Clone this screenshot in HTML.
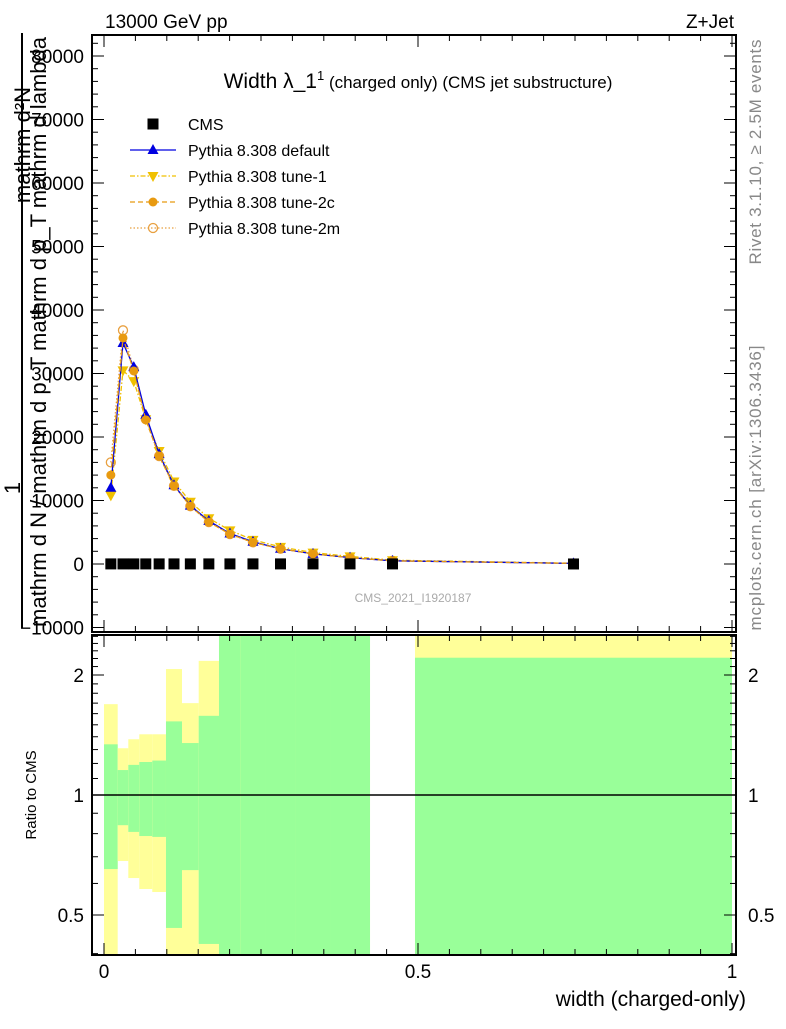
<!DOCTYPE html>
<html><head><meta charset="utf-8"><style>
body{margin:0;background:#fff;}
svg text{font-family:"Liberation Sans",sans-serif;}
</style></head><body>
<svg id="c" width="786" height="1024" xmlns="http://www.w3.org/2000/svg">
<rect width="786" height="1024" fill="#fff"/>
<g id="ratio"></g>
<g id="main"></g>
<g id="axes"></g>
<text x="105" y="28" font-size="19">13000 GeV pp</text>
<text x="734" y="28" font-size="19" text-anchor="end">Z+Jet</text>
<text x="418" y="88" font-size="21" text-anchor="middle">Width λ_1<tspan font-size="13" dy="-8">1</tspan><tspan font-size="17" dy="8"> (charged only) (CMS jet substructure)</tspan></text>
<text x="413" y="602" font-size="12" fill="#aaa" text-anchor="middle">CMS_2021_I1920187</text>
<text transform="translate(761,152) rotate(-90)" font-size="17" fill="#888" text-anchor="middle" textLength="225">Rivet 3.1.10, ≥ 2.5M events</text>
<text transform="translate(761,488) rotate(-90)" font-size="17" fill="#888" text-anchor="middle" textLength="285">mcplots.cern.ch [arXiv:1306.3436]</text>
<text transform="translate(30,145) rotate(-90)" font-size="22" text-anchor="middle">mathrm d²N</text>
<text transform="translate(20,488) rotate(-90)" font-size="22" text-anchor="middle">1</text>
<line x1="22" y1="33" x2="22" y2="628" stroke="#000" stroke-width="2"/>
<text transform="translate(46,332) rotate(-90)" font-size="22" text-anchor="middle" textLength="590" lengthAdjust="spacingAndGlyphs">mathrm d N / mathrm d p_T mathrm d p_T mathrm d lambda</text>
<text transform="translate(36,795) rotate(-90)" font-size="15" text-anchor="middle">Ratio to CMS</text>
<text x="746" y="1006" font-size="21" text-anchor="end">width (charged-only)</text>
<g id="legend"></g>
</svg>
<script>
const edges=[0,0.0218,0.0387,0.0562,0.0769,0.0987,0.1242,0.1508,0.1831,0.218,0.2564,0.3057,0.3599,0.4236,0.4952,1.0];
const cmsVals=[15,15,15,15,15,15,15,15,15,15,15,15,15,15,5];
const defVals=[12000,34800,31000,23500,17300,12400,9200,6800,4800,3500,2400,1600,1000,500,100];
const tune1Vals=[10800,30500,28800,22800,17800,13000,9800,7200,5300,3800,2700,1800,1200,600,120];
const tune2cVals=[14000,35600,30400,22700,17000,12300,9100,6600,4700,3400,2400,1600,1000,500,100];
const tune2mVals=[16000,36800,30600,22800,17000,12300,9100,6600,4700,3400,2400,1600,1000,500,100];
const greenHi=[1.34,1.155,1.19,1.21,1.22,1.53,1.35,1.58,3,3,3,3,3,null,2.21];
const greenLo=[0.652,0.84,0.808,0.789,0.785,0.464,0.648,0.423,0.3,0.3,0.3,0.3,0.3,null,0.3];
const yelHi=[1.69,1.31,1.38,1.42,1.42,2.07,1.70,2.17,3,3,3,3,3,null,3];
const yelLo=[0.3,0.683,0.619,0.581,0.571,0.3,0.3,0.3,0.3,0.3,0.3,0.3,0.3,null,0.3];
const yTicks=[-10000,0,10000,20000,30000,40000,50000,60000,70000,80000];
const yTickLabels=["−10000","0","10000","20000","30000","40000","50000","60000","70000","80000"];
const rTicks=[0.5,1,2];
const rTickLabels=["0.5","1","2"];
const xTicks=[0,0.5,1];
const xTickLabels=["0","0.5","1"];

const NS="http://www.w3.org/2000/svg";
const L=92,R=736,MT=35,MB=632,RT=635,RB=955;
const X=v=>104+v*628;
const Y=v=>564-v*63.5/10000;
const YR=r=>795-120*Math.log2(r);
function mk(p,t,a){const e=document.createElementNS(NS,t);for(const k in a)e.setAttribute(k,a[k]);p.appendChild(e);return e;}
const main=document.getElementById('main'),ratio=document.getElementById('ratio'),axes=document.getElementById('axes'),leg=document.getElementById('legend');
const cl=v=>Math.max(RT,Math.min(RB,v));
for(let i=0;i<edges.length-1;i++){
 if(yelHi[i]===null)continue;
 const x1=X(edges[i]),x2=X(edges[i+1]);
 const y=mk(ratio,'rect',{x:x1,y:cl(YR(yelHi[i])),width:x2-x1,height:cl(YR(yelLo[i]))-cl(YR(yelHi[i])),fill:'#ffff99'});
 
 
 const g=mk(ratio,'rect',{x:x1,y:cl(YR(greenHi[i])),width:x2-x1,height:cl(YR(greenLo[i]))-cl(YR(greenHi[i])),fill:'#99ff99'});
 
 
}
const ref=mk(ratio,'line',{x1:L,x2:R,y1:YR(1),y2:YR(1),stroke:'#000','stroke-width':1.5});


const mids=edges.slice(0,-1).map((e,i)=>(e+edges[i+1])/2);
function series(vals,color,dash,marker,name){
 const pts=vals.map((v,i)=>X(mids[i])+','+Y(v)).join(' ');
 const pl=mk(main,'polyline',{points:pts,fill:'none',stroke:color,'stroke-width':1.3,'stroke-dasharray':dash});
 
 
 vals.forEach((v,i)=>{const m=marker(main,X(mids[i]),Y(v));
  
  });
}
const tri=(p,x,y,c)=>mk(p,'polygon',{points:`${x},${y-6} ${x-5.5},${y+4} ${x+5.5},${y+4}`,fill:c});
const itri=(p,x,y,c)=>mk(p,'polygon',{points:`${x},${y+6} ${x-5.5},${y-4} ${x+5.5},${y-4}`,fill:c});
const dot=(p,x,y,c)=>mk(p,'circle',{cx:x,cy:y,r:4.5,fill:c});
const odot=(p,x,y,c)=>mk(p,'circle',{cx:x,cy:y,r:4.5,fill:'none',stroke:c,'stroke-width':1.3});
const sq=(p,x,y)=>mk(p,'rect',{x:x-5.5,y:y-5.5,width:11,height:11,fill:'#000'});
series(tune2mVals,'#e8a040','1.5,2',(p,x,y)=>odot(p,x,y,'#e8a040'),'tune-2m');
series(tune1Vals,'#f0c000','5,2,1.5,2',(p,x,y)=>itri(p,x,y,'#f0c000'),'tune-1');
series(defVals,'#0000e0','',(p,x,y)=>tri(p,x,y,'#0000e0'),'default');
series(tune2cVals,'#e89a10','5,3',(p,x,y)=>dot(p,x,y,'#e89a10'),'tune-2c');
cmsVals.forEach((v,i)=>{const s=sq(main,X(mids[i]),Y(v));
 
 });
const legItems=[["CMS",'#000','',null],["Pythia 8.308 default",'#0000e0','',tri],["Pythia 8.308 tune-1",'#f0c000','5,2,1.5,2',itri],["Pythia 8.308 tune-2c",'#e89a10','5,3',dot],["Pythia 8.308 tune-2m",'#e8a040','1.5,2',odot]];
legItems.forEach((it,i)=>{const y=124+i*26;
 const g=mk(leg,'g',{});
 
 
 if(it[3]){mk(g,'line',{x1:130,x2:176,y1:y,y2:y,stroke:it[1],'stroke-width':1.3,'stroke-dasharray':it[2]});it[3](g,153,y,it[1]);}
 else sq(g,153,y);
 const t=mk(g,'text',{x:188,y:y+6,'font-size':16});t.textContent=it[0];});
[[MT,MB],[RT,RB]].forEach(([t,b])=>{const f=mk(axes,'rect',{x:L,y:t,width:R-L,height:b-t,fill:'none',stroke:'#000','stroke-width':2});
 
 });
for(let v=-10000;v<=82000;v+=2000){const y=Y(v);if(y<MT||y>MB)continue;const big=v%10000===0;const l=big?12:6;
 mk(axes,'line',{x1:L,x2:L+l,y1:y,y2:y,stroke:'#000','stroke-width':1});mk(axes,'line',{x1:R-l,x2:R,y1:y,y2:y,stroke:'#000','stroke-width':1});}
yTicks.forEach((v,i)=>{const t=mk(axes,'text',{x:84,y:Y(v)+7,'font-size':19,'text-anchor':'end'});t.textContent=yTickLabels[i];
 
 });
[0.4,0.5,0.6,0.7,0.8,0.9,1,1.1,1.2,1.3,1.4,1.5,1.6,1.7,1.8,1.9,2,2.1,2.2,2.3,2.4,2.5].forEach(v=>{const y=YR(v);if(y<RT||y>RB)return;const big=[0.5,1,2].includes(v);const l=big?12:6;
 mk(axes,'line',{x1:L,x2:L+l,y1:y,y2:y,stroke:'#000'});mk(axes,'line',{x1:R-l,x2:R,y1:y,y2:y,stroke:'#000'});});
rTicks.forEach((v,i)=>{let t=mk(axes,'text',{x:84,y:YR(v)+7,'font-size':19,'text-anchor':'end'});t.textContent=rTickLabels[i];
 
 
 t=mk(axes,'text',{x:748,y:YR(v)+7,'font-size':19});t.textContent=rTickLabels[i];
 
 });
for(let k=0;k<=20;k++){const v=k*0.05;const x=X(v);const big=k%10===0;const l=big?12:6;
 [[MT,MB],[RT,RB]].forEach(([t,b])=>{mk(axes,'line',{x1:x,x2:x,y1:b-l,y2:b,stroke:'#000'});mk(axes,'line',{x1:x,x2:x,y1:t,y2:t+l,stroke:'#000'});});}
xTicks.forEach((v,i)=>{const t=mk(axes,'text',{x:X(v),y:978,'font-size':19,'text-anchor':'middle'});t.textContent=xTickLabels[i];
 
 });
</script>
</body></html>
